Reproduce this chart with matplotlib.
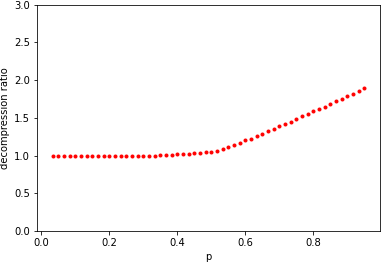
import matplotlib
matplotlib.use("Agg")
import matplotlib.pyplot as plt

# p goes 2/60 .. 57/60 in steps of 1/60
p = [i / 60 for i in range(2, 58)]
ratio = [1.00] * 19 + [
    1.01, 1.01, 1.01, 1.02, 1.02, 1.02, 1.03, 1.04, 1.045, 1.05,
    1.065, 1.085, 1.11, 1.135, 1.165,
    1.20, 1.225, 1.255, 1.29, 1.32, 1.35, 1.385, 1.42, 1.45, 1.485,
    1.52, 1.55, 1.585, 1.62, 1.65, 1.685, 1.72, 1.755, 1.79, 1.82,
    1.855, 1.89,
]

fig = plt.figure(figsize=(382 / 72, 263 / 72), dpi=72)
ax = fig.add_subplot(111)
fig.subplots_adjust(left=0.097, right=0.995, bottom=0.122, top=0.982)

ax.plot(p, ratio, 'r.')
ax.set_ylim(0, 3)
ax.set_xlabel('p')
ax.set_ylabel('decompression ratio')

fig.savefig('out.png', dpi=72)
